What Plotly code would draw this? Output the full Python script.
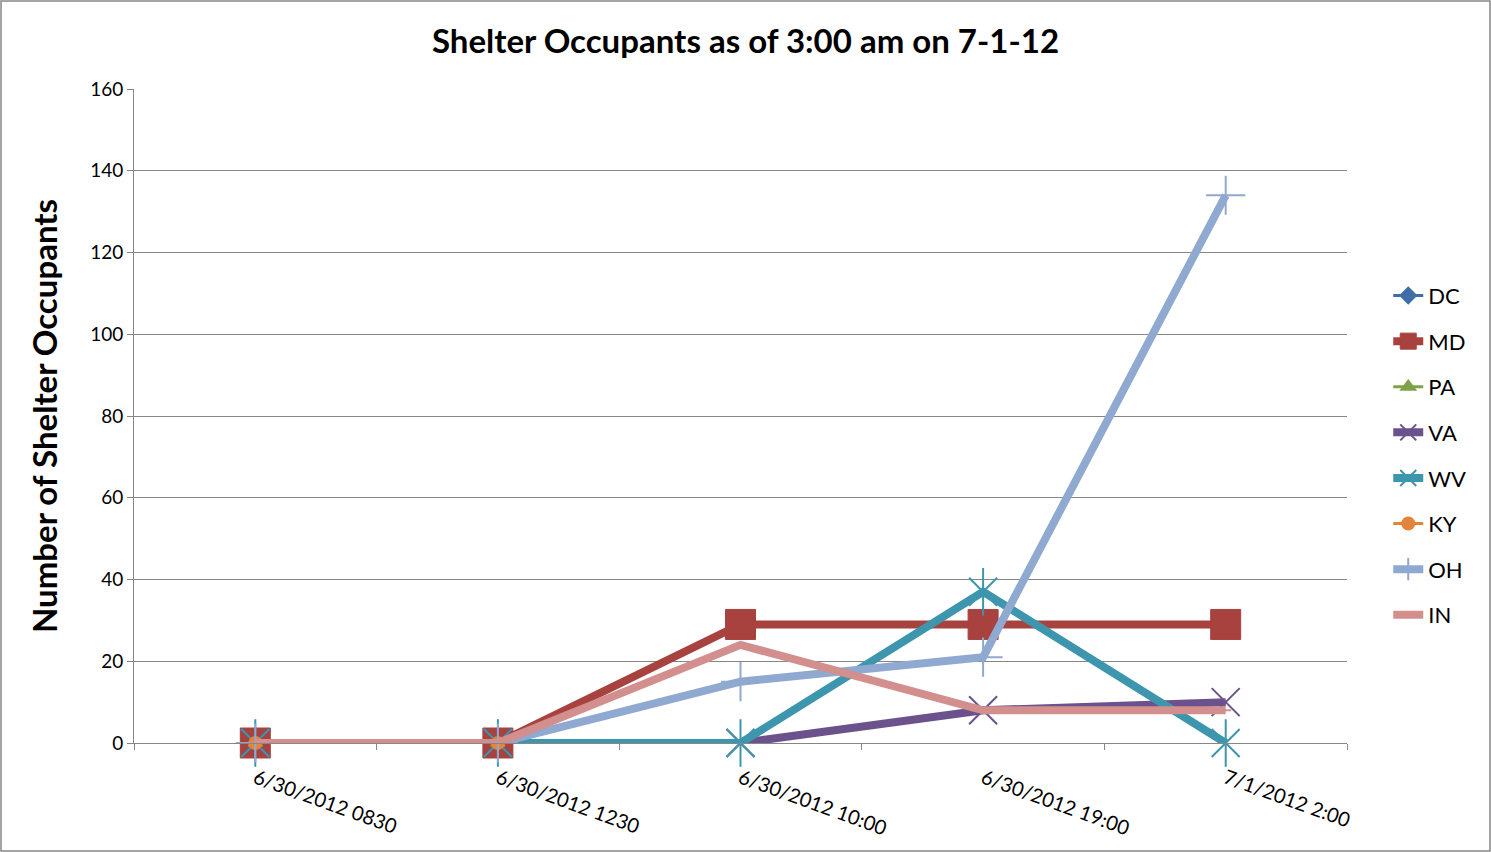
import plotly.graph_objects as go

categories = ["6/30/2012 0830", "6/30/2012 1230", "6/30/2012 10:00", "6/30/2012 19:00", "7/1/2012 2:00"]
DC = [0, 0, None, None, None]
MD = [0, 0, 29, 29, 29]
PA = [0, 0, None, None, None]
VA = [0, 0, 0, 8, 10]
WV = [0, 0, 0, 37, 0]
KY = [0, 0, None, None, None]
OH = [0, 0, 15, 21, 134]
IN = [0, 0, 24, 8, 8]

FONT = "Lato"
fig = go.Figure()

def add(name, y, color, width, symbol, size, mline=2):
    fig.add_trace(go.Scatter(
        x=categories, y=y, name=name, mode="lines+markers", legendgroup=name, cliponaxis=False,
        line=dict(color=color, width=width),
        marker=dict(symbol=symbol, size=size, color=color, line=dict(color=color, width=mline)),
    ))

add("DC", DC, "#3F6EA8", 3, "diamond", 12)
add("MD", MD, "#A7423F", 8, "square", 30, 1)
add("PA", PA, "#7FA248", 3, "triangle-up", 12)
add("VA", VA, "#6B528D", 8, "x-thin-open", 28, 2)
add("WV", WV, "#3D96AE", 8, "x-thin-open", 28, 2)
fig.add_trace(go.Scatter(
    x=categories, y=WV, mode="markers", showlegend=False, legendgroup="WV", hoverinfo="skip", cliponaxis=False,
    marker=dict(symbol="line-ns-open", size=34, color="#3D96AE", line=dict(color="#3D96AE", width=2)),
))
add("KY", KY, "#E4843A", 3, "circle", 12)
add("OH", OH, "#8FA9D0", 8, "cross-thin-open", 28, 2)
add("IN", IN, "#D28F8D", 8, "line-ew-open", 8, 2)

fig.update_layout(
    width=1491, height=852,
    paper_bgcolor="white", plot_bgcolor="white",
    margin=dict(l=134, r=144, t=89, b=109, autoexpand=False),
    title=dict(text="<b>Shelter Occupants as of 3:00 am on 7-1-12</b>", x=0.5, xanchor="center",
               y=1 - 41 / 852, yanchor="middle", font=dict(family=FONT, size=33, color="black")),
    font=dict(family=FONT, color="black"),
    legend=dict(x=1.034, xanchor="left", y=0.716, yanchor="top", font=dict(family=FONT, size=22, color="black"),
                tracegroupgap=14, bgcolor="rgba(0,0,0,0)", itemwidth=30),
    showlegend=True,
)
fig.update_xaxes(
    type="category", range=[-0.5, 4.5], showgrid=False, showline=True, linecolor="#868686", linewidth=1,
    ticks="outside", tickson="boundaries", ticklen=6, tickcolor="#868686", tickangle=20,
    ticklabelstandoff=15, automargin=False,
    tickfont=dict(family=FONT, size=20, color="black"),
)
fig.update_yaxes(
    range=[0, 160], dtick=20, showgrid=True, gridcolor="#868686", gridwidth=1, showline=True,
    linecolor="#868686", linewidth=1, ticks="outside", ticklen=6, tickcolor="#868686",
    tickfont=dict(family=FONT, size=19, color="black"), zeroline=False, automargin=False,
    title=dict(text="<b>Number of Shelter Occupants</b>", font=dict(family=FONT, size=33, color="black"), standoff=22),
)
fig.add_shape(type="rect", xref="paper", yref="paper",
              x0=-133 / 1213, x1=(1490 - 134) / 1213, y0=(743 - 851) / 654, y1=(743 - 1) / 654,
              line=dict(color="#868686", width=1.5), layer="below")

fig.write_html("out.html", config={"displayModeBar": False},
               post_script="document.body.style.margin='0';document.body.style.overflow='hidden';")
